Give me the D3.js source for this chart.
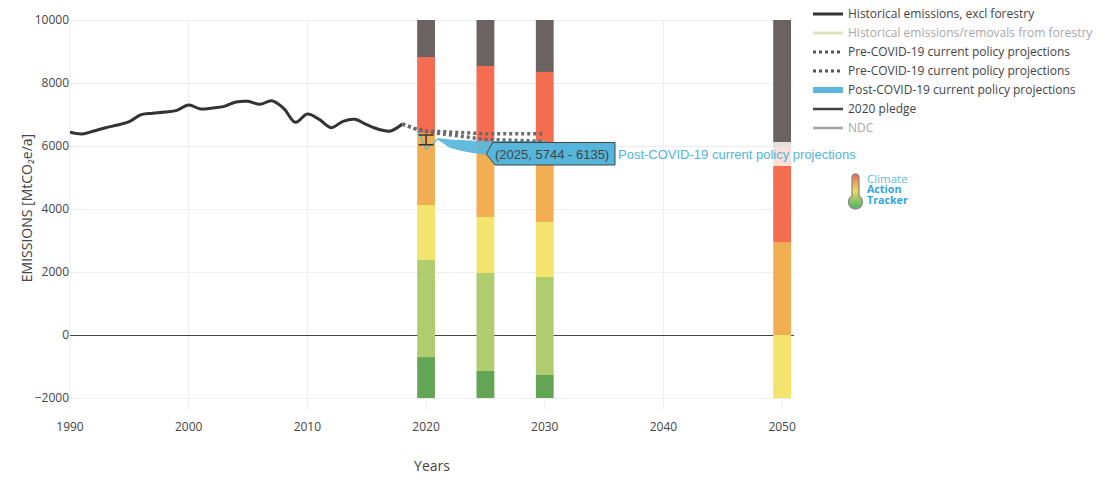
<!DOCTYPE html>
<html><head><meta charset="utf-8">
<script src="https://cdn.jsdelivr.net/npm/d3@7/dist/d3.min.js"></script>
<style>html,body{margin:0;padding:0;background:#fff;overflow:hidden}svg{display:block}text{font-family:"Open Sans",sans-serif}</style>
</head><body><svg id="c" width="1113" height="484"></svg>
<script>
const histYears=[1990,1991,1992,1993,1994,1995,1996,1997,1998,1999,2000,2001,2002,2003,2004,2005,2006,2007,2008,2009,2010,2011,2012,2013,2014,2015,2016,2017,2018];
const histValues=[6434,6381,6476,6581,6667,6773,6994,7037,7079,7132,7301,7175,7206,7259,7397,7418,7322,7438,7196,6751,7016,6846,6582,6783,6846,6677,6530,6476,6698];
const preYears=[2018,2019,2020,2025,2030];
const preUpper=[6698,6560,6480,6390,6390];
const preLower=[6698,6560,6450,6210,6150];
const postYears=[2019.25,2020,2021,2022,2023,2024,2025,2030];
const postHigh=[6520,5900,6230,6190,6170,6150,6135,6150];
const postLow=[6520,5880,6215,5960,5860,5790,5744,6100];
const pledgeYear=2020, pledgeLow=6040, pledgeHigh=6350;
const barYears=[2020,2025,2030,2050];
const darkGreenEdge=[-700,-1143,-1270,-4000];
const lightGreenEdge=[2380,1968,1840,-4000];
const yellowEdge=[4127,3746,3587,0];
const orangeEdge=[6413,6127,5900,2950];
const redEdge=[8825,8540,8350,5370];
const paleEdge=[8825,8540,8350,5970];
const lightGrayEdge=[8825,8540,8350,6127];
const grayEdge=[12000,12000,12000,12000];
const bottomEdge=[-4000,-4000,-4000,-4000];
const layerEdges=[bottomEdge,darkGreenEdge,lightGreenEdge,yellowEdge,orangeEdge,redEdge,paleEdge,lightGrayEdge,grayEdge];
const layerColors=["#64a555","#afcd6f","#f2e46c","#f2ae52","#f46d51","#fde0d8","#e2e0df","#6b6361"];
const xTicks=[1990,2000,2010,2020,2030,2040,2050];
const yTicks=[-2000,0,2000,4000,6000,8000,10000];
const legendLabels=["Historical emissions, excl forestry","Historical emissions/removals from forestry","Pre-COVID-19 current policy projections","Pre-COVID-19 current policy projections","Post-COVID-19 current policy projections","2020 pledge","NDC"];
const tooltipText="(2025, 5744 - 6135)";
const hoverLabel="Post-COVID-19 current policy projections";

const svg=d3.select("#c");
const x=d3.scaleLinear().domain([1990,2051]).range([70,794]);
const y=d3.scaleLinear().domain([-2000,10000]).range([398,20]);
svg.append("defs").append("clipPath").attr("id","p").append("rect").attr("x",70).attr("y",20).attr("width",724).attr("height",378);
const grid=svg.append("g");
grid.selectAll("line.v").data(xTicks).join("line").attr("x1",d=>x(d)).attr("x2",d=>x(d)).attr("y1",20).attr("y2",410).attr("stroke","#eee");
grid.selectAll("line.h").data(yTicks).join("line").attr("class","h").attr("x1",70).attr("x2",794).attr("y1",d=>Math.round(y(d))+.5).attr("y2",d=>Math.round(y(d))+.5).attr("stroke",d=>d===0?"#444":"#eee");
const plot=svg.append("g").attr("clip-path","url(#p)");
const bw=x(2021.5)-x(2020);
layerColors.forEach((c,i)=>{
  plot.append("g").selectAll("rect").data(barYears).join("rect")
    .attr("x",d=>x(d)-bw/2).attr("width",bw)
    .attr("y",(d,j)=>y(layerEdges[i+1][j])).attr("height",(d,j)=>Math.max(0,y(layerEdges[i][j])-y(layerEdges[i+1][j])))
    .attr("fill",c);
});
const ln=d3.line().x(d=>x(d[0])).y(d=>y(d[1])).curve(d3.curveCatmullRom.alpha(0.5));
plot.append("path").attr("d",ln(d3.zip(histYears,histValues))).attr("fill","none").attr("stroke","#333").attr("stroke-width",3);
const ar=d3.area().x(d=>x(d[0])).y0(d=>y(d[1])).y1(d=>y(d[2]));
plot.append("path").attr("d",ar(d3.zip(postYears,postLow,postHigh))).attr("fill","#5bb8dc").attr("fill-opacity",.95).attr("stroke","#5bb8dc").attr("stroke-width",1);
[preUpper,preLower].forEach(s=>{
  plot.append("path").attr("d",d3.line().x(d=>x(d[0])).y(d=>y(d[1]))(d3.zip(preYears,s))).attr("fill","none").attr("stroke","#6a6a6a").attr("stroke-width",3.5).attr("stroke-dasharray","3,3");
});
const px=x(pledgeYear);
plot.append("path").attr("d",`M${px-7.5},${y(pledgeHigh)}H${px+7.5}M${px},${y(pledgeHigh)}V${y(pledgeLow)}M${px-7.5},${y(pledgeLow)}H${px+7.5}`).attr("stroke","#333").attr("stroke-width",1.5).attr("fill","none");

const tk=svg.append("g").attr("fill","#444").attr("font-size",12);
tk.selectAll("text.x").data(xTicks).join("text").attr("x",d=>x(d)).attr("y",431).attr("text-anchor","middle").text(d=>d);
tk.selectAll("text.y").data(yTicks).join("text").attr("class","y").attr("x",69).attr("y",d=>y(d)+4).attr("text-anchor","end").text(d=>d<0?"\u2212"+Math.abs(d):d);
svg.append("text").attr("transform","translate(32,208) rotate(-90)").attr("text-anchor","middle").attr("font-size",14).attr("fill","#444").text("EMISSIONS [MtCO\u2082e/a]");
svg.append("text").attr("x",432).attr("y",471).attr("text-anchor","middle").attr("font-size",14).attr("fill","#444").text("Years");

const leg=svg.append("g");
const legColor=["#333","#dfe3bd","#555","#555","#5bb8dc","#444","#a5a5a5"];
const legWidth=[3,3,3,3,6,2.5,2.5];
const legDash=[null,null,"3,3","3,3",null,null,null];
const legText=["#444","#a8a8a8","#444","#444","#444","#444","#a8a8a8"];
legendLabels.forEach((t,i)=>{
  const yy=14+i*19;
  leg.append("line").attr("x1",813).attr("x2",843).attr("y1",yy).attr("y2",yy).attr("stroke",legColor[i]).attr("stroke-width",legWidth[i]).attr("stroke-dasharray",legDash[i]);
  leg.append("text").attr("x",848).attr("y",yy+4).attr("font-size",12).attr("fill",legText[i]).text(t);
});

// tooltip
const tx=x(2025), ty=y(5744);
const tip=svg.append("g");
tip.append("path").attr("d",`M${tx+1},${ty}L492.5,142.5H615V165H495Z`).attr("fill","#55b5db").attr("stroke","#444").attr("stroke-width",1);
tip.append("text").attr("x",495).attr("y",159).attr("font-size",13).attr("fill","#444").style("font-family","'Liberation Sans',sans-serif").text(tooltipText);
svg.append("text").attr("x",618).attr("y",159).attr("font-size",13).attr("fill","#4fb5dc").style("font-family","'Liberation Sans',sans-serif").text(hoverLabel);

// logo
const lg=svg.append("g");
const grad=svg.select("defs").append("linearGradient").attr("id","th").attr("gradientUnits","userSpaceOnUse").attr("x1",0).attr("y1",175).attr("x2",0).attr("y2",206);
[["0%","#f0694f"],["50%","#f2d85c"],["100%","#5fb868"]].forEach(s=>grad.append("stop").attr("offset",s[0]).attr("stop-color",s[1]));
lg.append("path").attr("d","M852,196V177.5a3.5,3.5 0 0 1 7,0V196a7,7 0 1 1 -7,0Z").attr("fill","url(#th)").attr("stroke","#8a8a8a").attr("stroke-width",1.3);
lg.append("text").attr("x",867).attr("y",183).attr("font-size",11.5).attr("fill","#5dbbe0").text("Climate");
lg.append("text").attr("x",867).attr("y",193).attr("font-size",10.7).attr("font-weight",700).attr("fill","#2ea5dc").text("Action");
lg.append("text").attr("x",867).attr("y",204).attr("font-size",10.7).attr("font-weight",700).attr("fill","#2ea5dc").text("Tracker");
</script></body></html>
